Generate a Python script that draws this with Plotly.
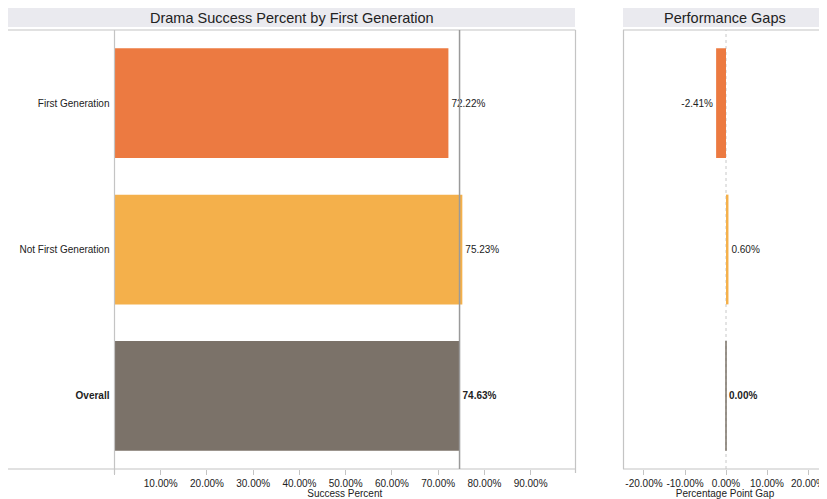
import plotly.graph_objects as go

categories = ["First Generation", "Not First Generation", "Overall"]
success = [0.7222, 0.7523, 0.7463]
gaps = [-0.0241, 0.0060, 0.0000]
colors = ["#EC7A41", "#F4B04B", "#7B7269"]
tick_vals = [0, 0.1, 0.2, 0.3, 0.4, 0.5, 0.6, 0.7, 0.8, 0.9]
gap_tick_vals = [-0.2, -0.1, 0.0, 0.1, 0.2]

# page body has an 8px margin; figure fills the rest of the 827x499 window
OFF = 8
W, H = 827 - OFF, 499 - OFF
def px(x):
    return (x - OFF) / W
def py(y):
    return 1 - (y - OFF) / H

FONT = "Liberation Sans, Arial, sans-serif"
GRAY = "#c4c4c4"

ylabels = [c if c != "Overall" else "<b>Overall</b>" for c in categories]
bar_text = [f"{v:.2%}" if c != "Overall" else f"<b>{v:.2%}</b>" for c, v in zip(categories, success)]
gap_text = [f"{v:.2%}" if c != "Overall" else f"<b>{v:.2%}</b>" for c, v in zip(categories, gaps)]
# zero-valued gap bars are drawn as a thin outline so they stay visible
gap_line_w = [1 if v == 0 else 0 for v in gaps]

fig = go.Figure()
fig.add_trace(go.Bar(
    y=ylabels, x=success, orientation="h", width=0.75,
    marker=dict(color=colors, line=dict(width=0)),
    text=bar_text, textposition="outside", cliponaxis=False,
    textfont=dict(size=10, color="#222222", family=FONT),
    xaxis="x", yaxis="y", showlegend=False, hoverinfo="skip"))
fig.add_trace(go.Bar(
    y=ylabels, x=gaps, orientation="h", width=0.75,
    marker=dict(color=colors, line=dict(width=gap_line_w, color=colors)),
    text=gap_text, textposition="outside", cliponaxis=False,
    textfont=dict(size=10, color="#222222", family=FONT),
    xaxis="x2", yaxis="y2", showlegend=False, hoverinfo="skip"))

ydom = [py(469), py(30)]
fig.update_layout(
    width=W, height=H, autosize=False,
    margin=dict(l=0, r=0, t=0, b=0),
    paper_bgcolor="white", plot_bgcolor="white",
    font=dict(family=FONT, size=10, color="#222222"),
    xaxis=dict(domain=[px(114.5), px(575)], range=[0, 0.996],
               tickvals=tick_vals,
               ticktext=["" if v == 0 else f"{v:.2%}" for v in tick_vals],
               ticks="outside", ticklen=5, tickcolor=GRAY,
               showgrid=False, zeroline=False, showline=False,
               tickfont=dict(size=10, color="#222222"),
               title=dict(text="Success Percent", font=dict(size=10), standoff=2),
               fixedrange=True),
    yaxis=dict(domain=ydom, autorange="reversed", showgrid=False,
               zeroline=False, showline=False, ticks="",
               tickfont=dict(size=10, color="#222222"), ticklabelstandoff=4),
    xaxis2=dict(domain=[px(623), px(827)], range=[-0.2512, 0.2463],
                tickvals=gap_tick_vals,
                ticktext=[f"{v:.2%}" for v in gap_tick_vals],
                ticks="outside", ticklen=5, tickcolor=GRAY,
                showgrid=False, zeroline=False, showline=False,
                tickfont=dict(size=10, color="#222222"),
                title=dict(text="Percentage Point Gap", font=dict(size=10), standoff=2),
                anchor="y2"),
    yaxis2=dict(domain=ydom, autorange="reversed", showgrid=False,
                zeroline=False, showline=False, showticklabels=False,
                anchor="x2", matches="y"),
    bargap=0.25,
)

shapes = []
# title bands
shapes.append(dict(type="rect", xref="paper", yref="paper", x0=px(6), x1=px(575),
                   y0=py(27), y1=py(8), fillcolor="#EAEAEF", line=dict(width=0), layer="below"))
shapes.append(dict(type="rect", xref="paper", yref="paper", x0=px(623), x1=px(828),
                   y0=py(27), y1=py(8), fillcolor="#EAEAEF", line=dict(width=0), layer="below"))
lw = 1.2
# left panel frame
shapes.append(dict(type="line", xref="paper", yref="paper", x0=px(6), x1=px(575.5), y0=py(30), y1=py(30), line=dict(color=GRAY, width=lw)))
shapes.append(dict(type="line", xref="paper", yref="paper", x0=px(6), x1=px(575.5), y0=py(469), y1=py(469), line=dict(color=GRAY, width=lw)))
shapes.append(dict(type="line", xref="paper", yref="paper", x0=px(114.5), x1=px(114.5), y0=py(30), y1=py(474), line=dict(color=GRAY, width=lw)))
shapes.append(dict(type="line", xref="paper", yref="paper", x0=px(575.5), x1=px(575.5), y0=py(30), y1=py(473), line=dict(color=GRAY, width=lw)))
# right panel frame
shapes.append(dict(type="line", xref="paper", yref="paper", x0=px(623), x1=px(828), y0=py(30), y1=py(30), line=dict(color=GRAY, width=lw)))
shapes.append(dict(type="line", xref="paper", yref="paper", x0=px(623), x1=px(828), y0=py(469), y1=py(469), line=dict(color=GRAY, width=lw)))
shapes.append(dict(type="line", xref="paper", yref="paper", x0=px(623.5), x1=px(623.5), y0=py(30), y1=py(469), line=dict(color=GRAY, width=lw)))
shapes.append(dict(type="line", xref="paper", yref="paper", x0=px(826.5), x1=px(826.5), y0=py(30), y1=py(469), line=dict(color=GRAY, width=lw)))
# reference line at overall value
overall = success[categories.index("Overall")]
shapes.append(dict(type="line", xref="x", yref="paper", x0=overall, x1=overall,
                   y0=py(469), y1=py(30), line=dict(color="#9a9a9a", width=1.5)))
# zero line in gap panel (dotted)
shapes.append(dict(type="line", xref="x2", yref="paper", x0=0, x1=0,
                   y0=py(469), y1=py(30), line=dict(color="#c8c8c8", width=1, dash="dot"),
                   layer="below"))
fig.update_layout(shapes=shapes)

fig.add_annotation(text="Drama Success Percent by First Generation", xref="paper", yref="paper",
                   x=px(292), y=py(17.5), showarrow=False, xanchor="center", yanchor="middle",
                   font=dict(size=14.5, color="#222222"))
fig.add_annotation(text="Performance Gaps", xref="paper", yref="paper",
                   x=px(725), y=py(17.5), showarrow=False, xanchor="center", yanchor="middle",
                   font=dict(size=14.5, color="#222222"))

fig.write_html("out.html")
